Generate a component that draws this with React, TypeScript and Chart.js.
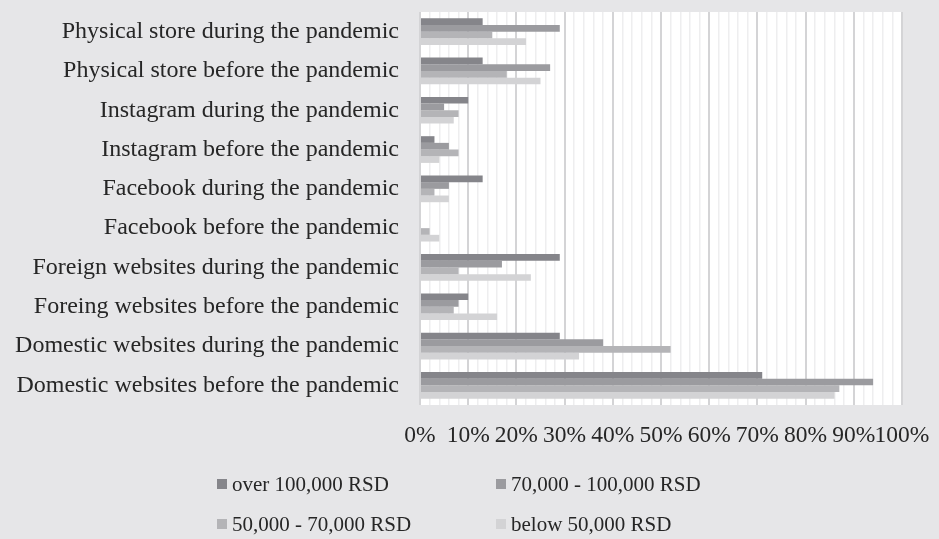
import React, { useEffect, useRef } from "react";
import { Chart, registerables } from "chart.js";

Chart.register(...registerables);

const categories = [
  "Physical store during the pandemic",
  "Physical store before the pandemic",
  "Instagram during the pandemic",
  "Instagram before the pandemic",
  "Facebook during the pandemic",
  "Facebook before the pandemic",
  "Foreign websites during the pandemic",
  "Foreing websites before the pandemic",
  "Domestic websites during the pandemic",
  "Domestic websites before the pandemic",
];

const seriesNames = [
  "over 100,000 RSD",
  "70,000 - 100,000 RSD",
  "50,000 - 70,000 RSD",
  "below 50,000 RSD",
];

const over100k = [13, 13, 10, 3, 13, 0, 29, 10, 29, 71];
const from70to100k = [29, 27, 5, 6, 6, 0, 17, 8, 38, 94];
const from50to70k = [15, 18, 8, 8, 3, 2, 8, 7, 52, 87];
const below50k = [22, 25, 7, 4, 6, 4, 23, 16, 33, 86];

const seriesColors = ["#85858a", "#9b9b9f", "#b4b4b7", "#d3d3d5"];

const FONT = '"Liberation Serif", "Times New Roman", serif';
const TEXT = "#262626";
const BG = "#e6e6e8";

const backgroundPlugin = {
  id: "bgFill",
  beforeDraw(chart: any) {
    const { ctx, chartArea } = chart;
    ctx.save();
    ctx.fillStyle = BG;
    ctx.fillRect(0, 0, chart.width, chart.height);
    ctx.fillStyle = "#ffffff";
    ctx.fillRect(chartArea.left, chartArea.top, chartArea.right - chartArea.left, chartArea.bottom - chartArea.top);
    ctx.restore();
  },
};

const legendPlugin = {
  id: "gridLegend",
  afterDraw(chart: any) {
    const ctx = chart.ctx;
    ctx.save();
    ctx.font = `21px ${FONT}`;
    ctx.textBaseline = "middle";
    ctx.textAlign = "left";
    const cols = [217, 496];
    const rows = [484, 524];
    chart.data.datasets.forEach((ds: any, i: number) => {
      const x = cols[i % 2];
      const y = rows[Math.floor(i / 2)];
      ctx.fillStyle = ds.backgroundColor;
      ctx.fillRect(x, y - 5, 10, 10);
      ctx.fillStyle = TEXT;
      ctx.fillText(ds.label, x + 15, y + 1);
    });
    ctx.restore();
  },
};

export default function App() {
  const ref = useRef<HTMLCanvasElement | null>(null);

  useEffect(() => {
    document.body.style.margin = "0";
    document.body.style.background = BG;
    const canvas = ref.current;
    if (!canvas) return;
    const values = [over100k, from70to100k, from50to70k, below50k];
    const chart = new Chart(canvas, {
      type: "bar",
      data: {
        labels: categories,
        datasets: seriesNames.map((name, i) => ({
          label: name,
          data: values[i],
          backgroundColor: seriesColors[i],
          borderWidth: 0,
          barPercentage: 1,
          categoryPercentage: 0.68,
        })),
      },
      options: {
        indexAxis: "y",
        responsive: false,
        animation: false,
        devicePixelRatio: 1,
        layout: { padding: { top: 12, right: 37, left: 0, bottom: 84 } },
        plugins: {
          legend: { display: false },
          tooltip: { enabled: false },
        },
        scales: {
          x: {
            type: "linear",
            min: 0,
            max: 100,
            afterFit(scale: any) {
              scale.height = 50;
              scale.paddingLeft = 0;
              scale.paddingRight = 0;
            },
            border: { display: false },
            grid: {
              drawTicks: false,
              color: (c: any) => (c.tick && c.tick.value % 10 === 0 ? "#d4d4d6" : "#eeeeef"),
              lineWidth: (c: any) => (c.tick && c.tick.value % 10 === 0 ? 2 : 1.5),
            },
            ticks: {
              stepSize: 2,
              autoSkip: false,
              maxRotation: 0,
              padding: 17,
              color: TEXT,
              font: { family: FONT, size: 23.5 },
              callback: (v: any) => (Number(v) % 10 === 0 ? `${v}%` : ""),
            },
          },
          y: {
            type: "category",
            afterFit(scale: any) {
              scale.width = 420;
              scale.paddingTop = 0;
              scale.paddingBottom = 0;
            },
            border: { display: false },
            grid: { display: false, drawTicks: false },
            ticks: {
              padding: 21,
              autoSkip: false,
              color: TEXT,
              font: { family: FONT, size: 24 },
            },
          },
        },
      },
      plugins: [backgroundPlugin, legendPlugin],
    } as any);
    return () => chart.destroy();
  }, []);

  return (
    <div style={{ width: 939, height: 539, background: BG }}>
      <canvas ref={ref} width={939} height={539} style={{ display: "block" }} />
    </div>
  );
}
